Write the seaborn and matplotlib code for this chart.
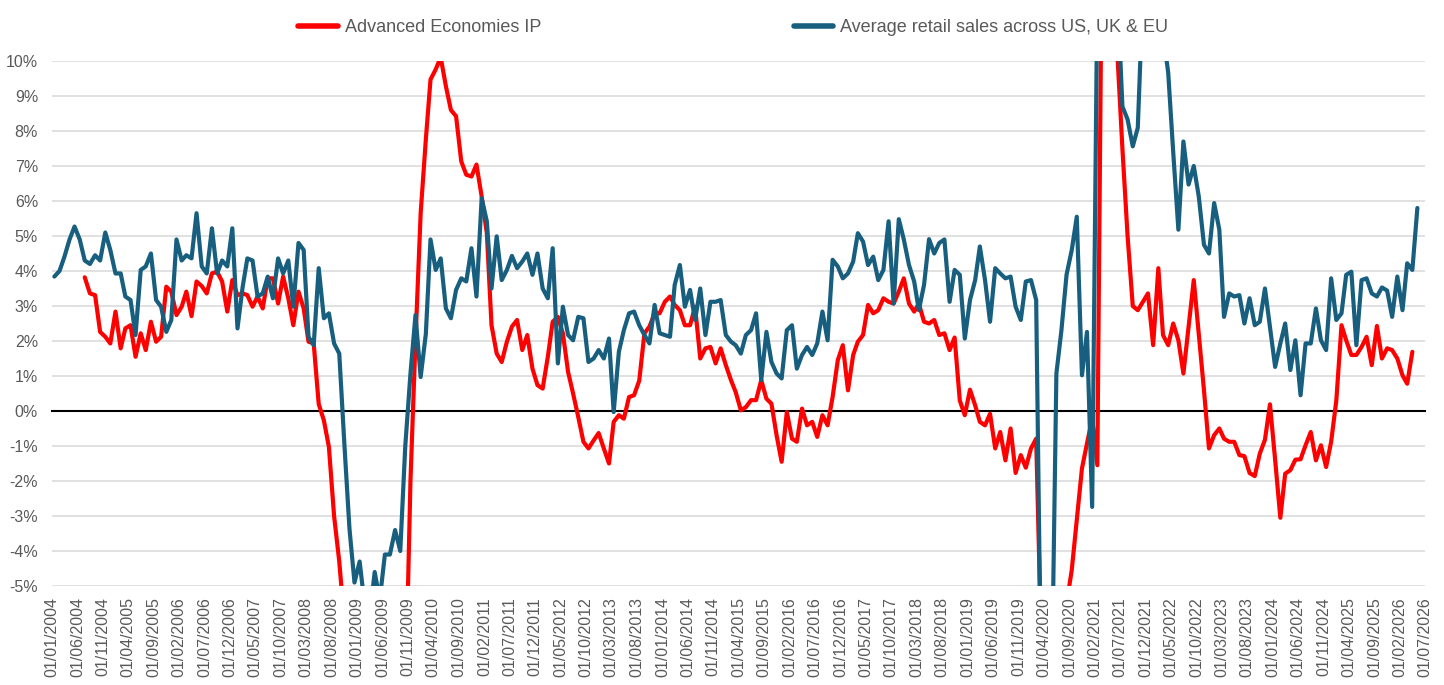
import numpy as np
import pandas as pd
import matplotlib
matplotlib.use("Agg")
import matplotlib.pyplot as plt
import matplotlib.dates as mdates
from matplotlib.ticker import FuncFormatter
import seaborn as sns

# monthly y/y growth in %, one value per month from Jan 2004
retail_sales = [
    3.84, 4.0, 4.4, 4.9, 5.27, 4.9, 4.3, 4.2, 4.45, 4.3, 5.1, 4.6,
    3.93, 3.93, 3.27, 3.17, 2.17, 4.03, 4.13, 4.5, 3.17, 2.98, 2.26, 2.6,
    4.9, 4.3, 4.45, 4.36, 5.65, 4.13, 3.93, 5.22, 3.93, 4.3, 4.13, 5.22,
    2.36, 3.55, 4.36, 4.3, 3.27, 3.36, 3.84, 3.22, 4.36, 3.93, 4.3, 2.98,
    4.8, 4.6, 2.12, 1.88, 4.08, 2.65, 2.79, 1.93, 1.64, -0.9, -3.36, -4.9,
    -4.3, -5.6, -5.9, -4.6, -5.4, -4.1, -4.1, -3.4, -4.0, -1.0, 1.07, 2.74,
    0.97, 2.2, 4.9, 4.03, 4.36, 2.93, 2.65, 3.46, 3.79, 3.7, 4.65, 3.27,
    6.08, 5.42, 3.5, 4.99, 3.74, 4.03, 4.43, 4.08, 4.27, 4.5, 3.89, 4.5,
    3.5, 3.22, 4.65, 1.36, 2.98, 2.17, 2.02, 2.69, 2.65, 1.4, 1.5, 1.74,
    1.5, 2.07, -0.03, 1.69, 2.31, 2.79, 2.84, 2.45, 2.17, 1.93, 3.03, 2.22,
    2.17, 2.12, 3.6, 4.17, 2.98, 3.46, 2.6, 3.5, 2.17, 3.12, 3.12, 3.17,
    2.17, 1.98, 1.88, 1.64, 2.17, 2.31, 2.79, 0.88, 2.26, 1.4, 1.07, 0.93,
    2.31, 2.45, 1.21, 1.6, 1.83, 1.6, 1.93, 2.84, 2.02, 4.32, 4.13, 3.79,
    3.93, 4.27, 5.08, 4.84, 4.17, 4.41, 3.74, 4.03, 5.42, 3.07, 5.48, 4.9,
    4.17, 3.7, 2.88, 3.6, 4.91, 4.5, 4.8, 4.9, 3.12, 4.03, 3.89, 2.07,
    3.17, 3.74, 4.7, 3.74, 2.55, 4.08, 3.93, 3.79, 3.84, 2.98, 2.6, 3.7,
    3.74, 3.17, -7.7, -18.0, -9.0, 1.07, 2.3, 3.9, 4.6, 5.55, 1.02, 2.26,
    -2.74, 12.0, 28.0, 40.0, 22.0, 12.0, 8.7, 8.33, 7.56, 8.09, 12.0, 13.0,
    11.5, 12.0, 10.8, 9.67, 7.4, 5.18, 7.7, 6.47, 7.0, 6.13, 4.75, 4.5,
    5.94, 5.18, 2.69, 3.36, 3.27, 3.31, 2.5, 3.22, 2.45, 2.55, 3.5, 2.41,
    1.26, 1.93, 2.5, 1.17, 2.02, 0.45, 1.93, 1.93, 2.93, 2.02, 1.74, 3.79,
    2.6, 2.79, 3.89, 3.98, 1.88, 3.74, 3.79, 3.36, 3.27, 3.53, 3.44, 2.69,
    3.84, 2.88, 4.22, 4.03, 5.8,
]

ae_ip = [
    np.nan, np.nan, np.nan, np.nan, np.nan, np.nan, 3.82, 3.36, 3.31, 2.26, 2.12, 1.93,
    2.84, 1.79, 2.36, 2.45, 1.55, 2.22, 1.74, 2.55, 1.98, 2.12, 3.55, 3.41,
    2.74, 2.98, 3.41, 2.71, 3.7, 3.57, 3.36, 3.93, 3.98, 3.7, 2.84, 3.74,
    3.31, 3.36, 3.31, 2.98, 3.27, 2.93, 3.79, 3.79, 3.07, 3.84, 3.22, 2.45,
    3.41, 2.93, 1.98, 1.93, 0.2, -0.27, -1.03, -3.0, -4.3, -6.0, -10.0, -14.0,
    -17.0, -18.5, -19.0, -19.0, -18.0, -17.0, -15.0, -13.0, -11.0, -8.4, -2.0, 2.0,
    5.65, 7.76, 9.47, 9.76, 10.1, 9.28, 8.6, 8.42, 7.13, 6.75, 6.7, 7.04,
    6.13, 5.08, 2.45, 1.64, 1.4, 1.98, 2.41, 2.6, 1.74, 2.17, 1.21, 0.74,
    0.64, 1.55, 2.55, 2.69, 2.22, 1.12, 0.5, -0.17, -0.88, -1.07, -0.84, -0.63,
    -1.07, -1.5, -0.31, -0.12, -0.22, 0.4, 0.45, 0.87, 2.22, 2.41, 2.79, 2.79,
    3.12, 3.27, 3.03, 2.88, 2.45, 2.45, 2.98, 1.5, 1.79, 1.83, 1.36, 1.79,
    1.31, 0.88, 0.54, 0.02, 0.11, 0.31, 0.31, 0.88, 0.35, 0.21, -0.7, -1.45,
    -0.03, -0.79, -0.88, 0.07, -0.41, -0.31, -0.74, -0.12, -0.41, 0.4, 1.45, 1.88,
    0.59, 1.6, 1.98, 2.17, 3.03, 2.79, 2.88, 3.22, 3.12, 3.07, 3.41, 3.79,
    3.07, 2.84, 3.07, 2.55, 2.5, 2.6, 2.17, 2.22, 1.74, 2.1, 0.3, -0.12,
    0.61, 0.16, -0.31, -0.41, -0.08, -1.07, -0.6, -1.41, -0.5, -1.77, -1.26, -1.62,
    -1.07, -0.79, -6.4, -18.0, -17.0, -12.0, -8.5, -5.5, -4.54, -3.12, -1.64, -0.93,
    -0.22, -1.55, 14.0, 24.0, 18.0, 10.2, 7.5, 5.0, 3.0, 2.88, 3.12, 3.36,
    1.88, 4.08, 2.17, 1.88, 2.5, 2.02, 1.07, 2.41, 3.74, 2.2, 0.6, -1.07,
    -0.69, -0.5, -0.79, -0.88, -0.88, -1.26, -1.29, -1.77, -1.86, -1.22, -0.82, 0.19,
    -1.4, -3.05, -1.79, -1.69, -1.39, -1.38, -0.98, -0.6, -1.41, -0.98, -1.6, -0.88,
    0.3, 2.45, 2.02, 1.6, 1.6, 1.83, 2.12, 1.31, 2.43, 1.5, 1.79, 1.74,
    1.5, 1.02, 0.78, 1.69, np.nan,
]

series_names = ["Advanced Economies IP", "Average retail sales across US, UK & EU"]
colors = ["#FF0000", "#185F7F"]
y_ticks = list(range(-5, 11))

# --- data frame (points sit mid-month, like the original date axis) ---
months = pd.date_range("2004-01-01", periods=len(retail_sales), freq="MS") + pd.Timedelta(days=14)
df = pd.DataFrame({"date": months, series_names[0]: ae_ip, series_names[1]: retail_sales})
long_df = df.melt(id_vars="date", var_name="series", value_name="yoy").dropna()

tick_dates = pd.date_range("2004-01-01", "2026-07-01", freq="5MS")

sns.set_style("white")
plt.rcParams["font.family"] = ["Liberation Sans", "DejaVu Sans"]
grey = "#595959"

fig = plt.figure(figsize=(14.44, 6.85), dpi=100)
ax = fig.add_axes([0.036, 0.1445, 0.951, 0.7665])

sns.lineplot(data=long_df, x="date", y="yoy", hue="series", hue_order=series_names,
             palette=colors, linewidth=3, estimator=None, ax=ax, zorder=3)

ax.set_ylim(y_ticks[0], y_ticks[-1])
ax.set_xlim(tick_dates[0], tick_dates[-1])
ax.set_yticks(y_ticks)
ax.yaxis.set_major_formatter(FuncFormatter(lambda v, p: f"{v:.0f}%"))
ax.tick_params(axis="y", length=0, pad=10, labelsize=11.5, labelcolor=grey)
ax.yaxis.grid(True, color="#D9D9D9", linewidth=1.1)
ax.set_xlabel("")
ax.set_ylabel("")

# zero line with tick marks, labels at bottom
for s in ["left", "right", "top"]:
    ax.spines[s].set_visible(False)
ax.spines["bottom"].set_position(("data", 0))
ax.spines["bottom"].set_color("black")
ax.spines["bottom"].set_linewidth(1.5)
ax.set_xticks(tick_dates)
ax.tick_params(axis="x", direction="out", length=4, width=1, color="black", labelbottom=False)

sec = ax.secondary_xaxis("bottom")
sec.set_xticks(mdates.date2num(tick_dates))
sec.xaxis.set_major_formatter(mdates.DateFormatter("%d/%m/%Y"))
sec.tick_params(axis="x", length=0, pad=8, labelsize=11.5, labelcolor=grey, labelrotation=90)
sec.spines["bottom"].set_visible(False)

sns.move_legend(ax, loc="center", bbox_to_anchor=(0.496, 1.063), ncol=2, frameon=False,
                title=None, fontsize=13, labelcolor=grey, handlelength=2.2,
                handletextpad=0.35, columnspacing=14)
for h in ax.get_legend().legend_handles:
    h.set_linewidth(4)

fig.savefig("out.png", dpi=100)
